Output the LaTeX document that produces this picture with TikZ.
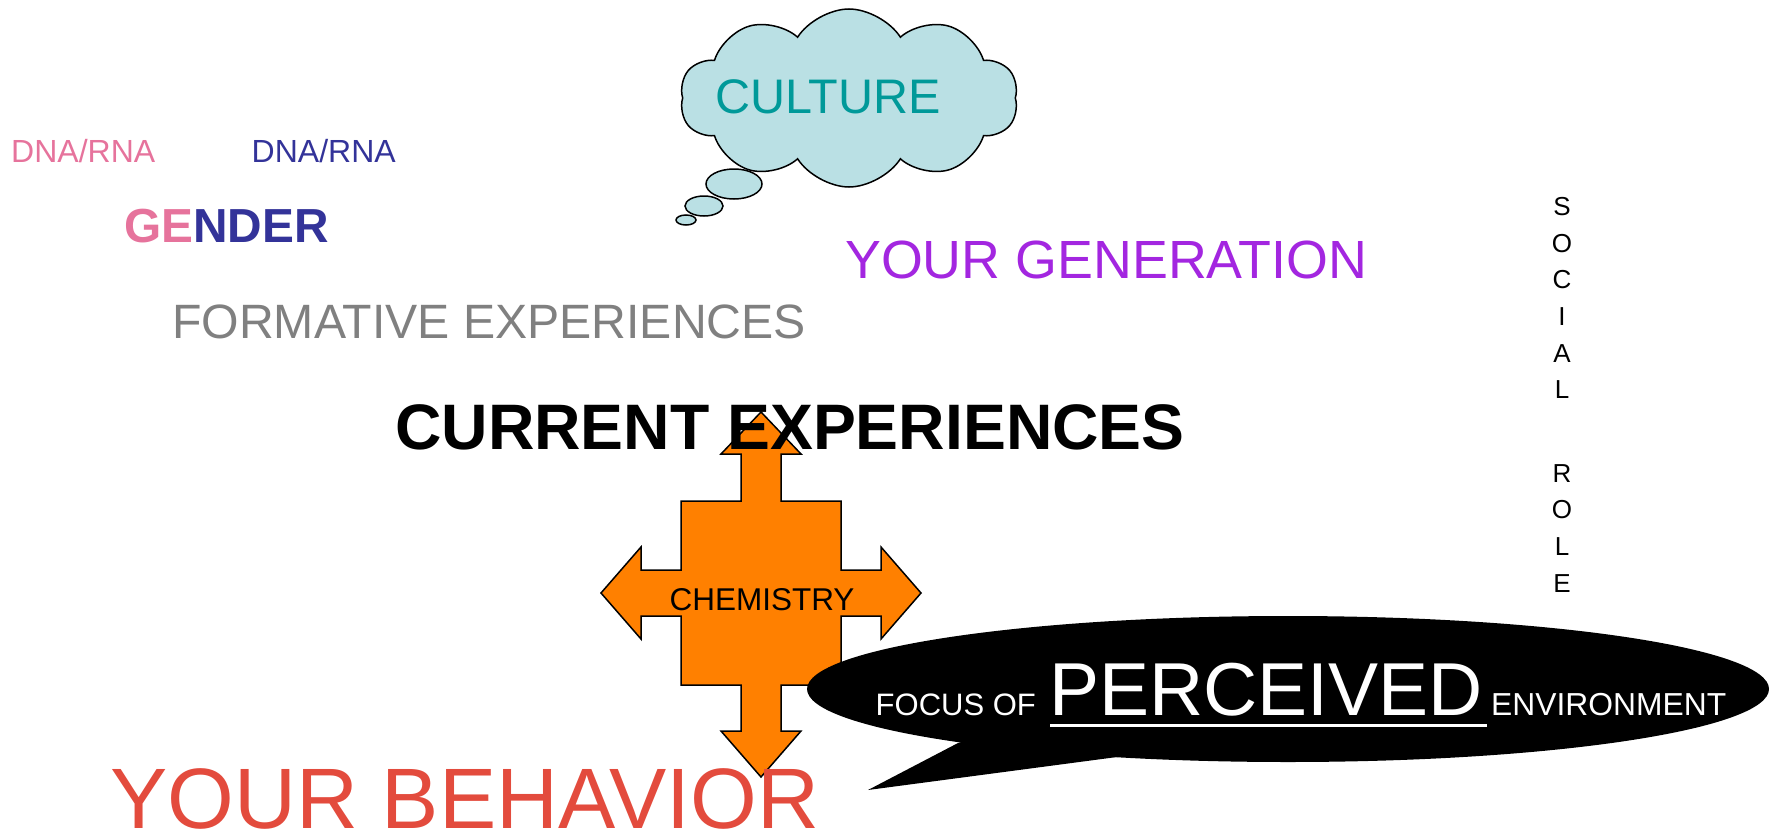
\documentclass[tikz,border=0pt]{standalone}
\usepackage{fontspec}
\setmainfont{Liberation Sans}
\usetikzlibrary{shapes.symbols}

\definecolor{cloudblue}{HTML}{BAE0E4}
\definecolor{cultureteal}{HTML}{009999}
\definecolor{dnapink}{HTML}{E6739C}
\definecolor{dnablue}{HTML}{333399}
\definecolor{genpurple}{HTML}{A326E0}
\definecolor{chemorange}{HTML}{FF8000}
\definecolor{behavred}{HTML}{E34B3D}

\newcommand{\sz}[1]{\fontsize{#1}{#1}\selectfont}

\begin{document}
\begin{tikzpicture}[x=1pt,y=-1pt,
    txt/.style={inner sep=0pt,anchor=base west},
    puff/.style={draw=black,line width=1.5pt,fill=cloudblue}]
    \useasboundingbox (0,0) rectangle (1775,835);

    \node[cloud, puff, cloud puffs=10, cloud puff arc=115, aspect=1.9,
          minimum width=338pt, minimum height=178pt] (cloud) at (849,98) {};
    \draw[puff] (734,184) ellipse [x radius=28, y radius=15];
    \draw[puff] (704,206) ellipse [x radius=19, y radius=10];
    \draw[puff] (686,220) ellipse [x radius=10, y radius=5];
    \node[txt, text=cultureteal, font=\sz{48.5}] (culture) at (715,113) {CULTURE};

    \node[txt, text=dnapink, font=\sz{32}] (dnamom) at (11,162) {DNA/RNA};
    \node[txt, text=dnablue, font=\sz{32}] (dnadad) at (251.5,162) {DNA/RNA};
    \node[txt, font=\sz{47.8}\bfseries] (gender) at (124,242) {\textcolor{dnapink}{GE}\textcolor{dnablue}{NDER}};
    \node[txt, text=genpurple, font=\sz{53.8}] (generation) at (845,278) {YOUR GENERATION};
    \node[txt, text=gray, font=\sz{48.2}] (formative) at (172,338) {FORMATIVE EXPERIENCES};

    \node[inner sep=0pt, anchor=north, align=center, font=\fontsize{26}{36.7}\selectfont] (social) at (1562,197)
        {S\\O\\C\\I\\A\\L\\[46.7pt]R\\O\\L\\E};

    \draw[line width=1.5pt, fill=chemorange, line join=miter]
        (761,412) -- (801,454) -- (781,454) -- (781,501) -- (841,501) -- (841,570)
        -- (881,570) -- (881,547) -- (921,593) -- (881,639) -- (881,616) -- (841,616)
        -- (841,685) -- (781,685) -- (781,731) -- (801,731) -- (761,777) -- (721,731)
        -- (741,731) -- (741,685) -- (681,685) -- (681,616) -- (641,616) -- (641,639)
        -- (601,593) -- (641,547) -- (641,570) -- (681,570) -- (681,501) -- (741,501)
        -- (741,454) -- (721,454) -- cycle;
    \node[inner sep=0pt, anchor=base, font=\sz{31.5}] (chemistry) at (762,610) {CHEMISTRY};
    \node[txt, font=\sz{64.3}\bfseries] (current) at (395,449) {CURRENT EXPERIENCES};

    \fill (1288,689) ellipse [x radius=481, y radius=73];
    \fill (958,743) -- (868,790) -- (1117,757) -- (1050,715) -- cycle;
    \node[txt, text=white, font=\sz{31}] (focus) at (875.5,715) {FOCUS OF};
    \node[txt, text=white, font=\sz{75}] (perceived) at (1049,715) {PERCEIVED};
    \node[txt, text=white, font=\sz{31.8}] (environment) at (1491,715) {ENVIRONMENT};
    \draw[white, line width=3pt] ([xshift=1pt,yshift=-10pt]perceived.base west) -- ([xshift=4pt,yshift=-10pt]perceived.base east);

    \node[txt, text=behavred, font=\sz{85.8}] (behavior) at (110,828) {YOUR BEHAVIOR};
\end{tikzpicture}
\end{document}
